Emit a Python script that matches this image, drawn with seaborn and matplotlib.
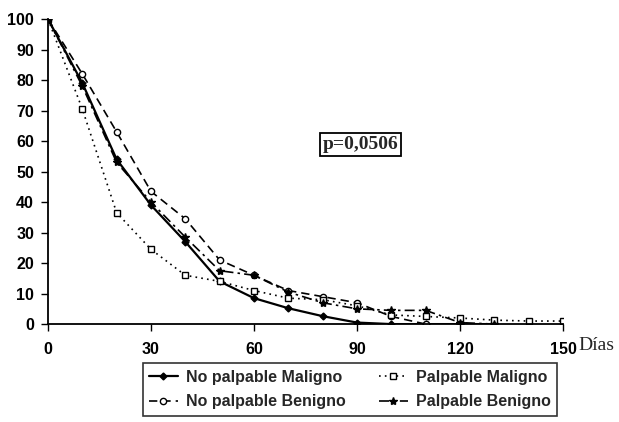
import pandas as pd
import seaborn as sns
import matplotlib.pyplot as plt

# Días de seguimiento (cada 10 días)
days = [0, 10, 20, 30, 40, 50, 60, 70, 80, 90, 100, 110, 120, 130, 140, 150]

# Porcentaje por grupo
no_palp_maligno = [100, 79, 54, 39, 27, 14, 8.5, 5.2, 2.6, 0.5, 0, 0, 0, 0]
no_palp_benigno = [100, 82, 63, 43.5, 34.5, 21, 16, 11, 9, 7, 2.5, 0, 0]
palp_maligno = [100, 70.5, 36.5, 24.5, 16, 14, 11, 8.5, 8, 6, 3, 2.5, 2, 1.3, 1, 1]
palp_benigno = [100, 78, 53, 40, 28.5, 17.5, 16, 10.5, 7, 5, 4.5, 4.5, 0.5, 0]

series_names = ["No palpable Maligno", "No palpable Benigno",
                "Palpable Maligno", "Palpable Benigno"]
series_values = [no_palp_maligno, no_palp_benigno, palp_maligno, palp_benigno]

frames = []
for name, vals in zip(series_names, series_values):
    frames.append(pd.DataFrame({"Dias": days[:len(vals)], "Pct": vals, "Grupo": name}))
df = pd.concat(frames, ignore_index=True)

sns.set_style("white")
plt.rcParams["font.family"] = ["Liberation Sans", "DejaVu Sans"]

fig = plt.figure(figsize=(6.19, 4.22), dpi=100)
ax = fig.add_axes([0.0775, 0.232, 0.832, 0.723])

styles = {
    "No palpable Maligno": dict(linestyle="-", marker="D", markersize=3.5,
                                markerfacecolor="black", linewidth=1.6),
    "No palpable Benigno": dict(linestyle=(0, (5, 3)), marker="o", markersize=4.5,
                                markerfacecolor="white", linewidth=1.2),
    "Palpable Maligno": dict(linestyle=(0, (1, 2.5)), marker="s", markersize=4.5,
                             markerfacecolor="white", linewidth=1.2),
    "Palpable Benigno": dict(linestyle=(0, (6, 2.5, 1.5, 2.5)), marker="*", markersize=6,
                             markerfacecolor="black", linewidth=1.2),
}

for name in series_names:
    sns.lineplot(data=df[df["Grupo"] == name], x="Dias", y="Pct", ax=ax,
                 color="black", markeredgecolor="black", markeredgewidth=1.0,
                 label=name, **styles[name])

ax.set_xlim(0, 150)
ax.set_ylim(0, 100)
ax.set_xticks([0, 30, 60, 90, 120, 150])
ax.set_yticks(range(0, 101, 10))
ax.set_xlabel("")
ax.set_ylabel("")
for s in ["top", "right"]:
    ax.spines[s].set_visible(False)
for s in ["left", "bottom"]:
    ax.spines[s].set_color("black")
    ax.spines[s].set_linewidth(1.3)
ax.tick_params(axis="both", direction="out", length=5, width=1, colors="black",
               labelsize=11.5, pad=5, bottom=True, left=True)
ax.tick_params(axis="x", pad=8)
for lbl in ax.get_xticklabels() + ax.get_yticklabels():
    lbl.set_fontweight("bold")

ax.text(1.03, -0.07, "Días", transform=ax.transAxes, fontsize=14,
        family="Liberation Serif", va="center", ha="left")

ax.text(91, 59, "p=0,0506", fontsize=14, fontweight="bold",
        family="Liberation Serif", ha="center", va="center",
        bbox=dict(boxstyle="square,pad=0.15", facecolor="white",
                  edgecolor="black", linewidth=1.3))

handles, labels = ax.get_legend_handles_labels()
ax.get_legend().remove()
leg = fig.legend(handles, labels, ncol=2, loc="center",
                 bbox_to_anchor=(0.565, 0.077), frameon=True, fancybox=False,
                 edgecolor="black", handlelength=1.8, handletextpad=0.5,
                 columnspacing=2.1, labelspacing=0.6, borderpad=0.4,
                 prop={"weight": "bold", "size": 11.5})
leg.get_frame().set_linewidth(1.2)

fig.savefig("out.png", dpi=100)
